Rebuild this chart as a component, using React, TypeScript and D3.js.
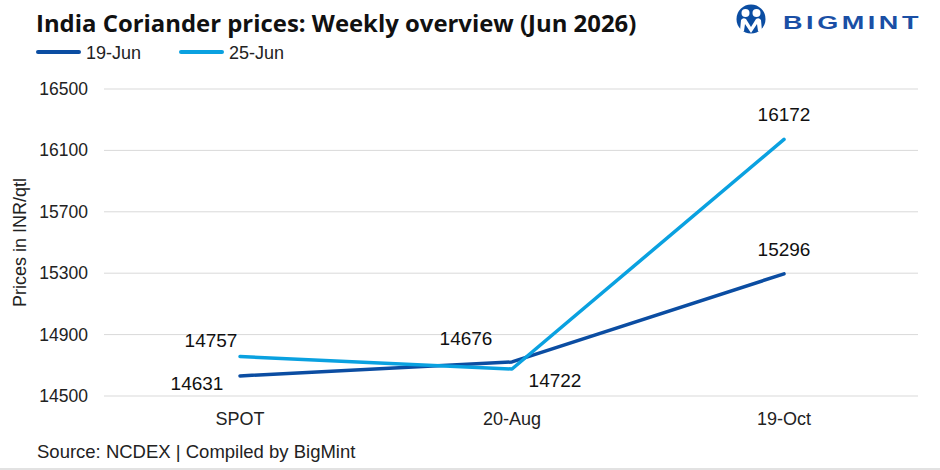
import React from "react";
import * as d3 from "d3";

const categories = ["SPOT", "20-Aug", "19-Oct"];
const seriesNames = ["19-Jun", "25-Jun"];
const jun19 = [14631, 14722, 15296];
const jun25 = [14757, 14676, 16172];
const yTicks = [14500, 14900, 15300, 15700, 16100, 16500];
// where each value label sits relative to its point
const jun19LabelPos = ["left-below", "right-below", "above"];
const jun25LabelPos = ["left-above", "far-left-above", "above"];

const W = 940;
const H = 470;
const M = { left: 104, right: 20, top: 89, bottom: 74 };
const COLORS = ["#0B4DA2", "#0AA1E0"];
const FONT = "Arial, 'Liberation Sans', Helvetica, sans-serif";

export default function App() {
  const x = d3
    .scaleBand<string>()
    .domain(categories)
    .range([M.left, W - M.right])
    .paddingInner(0)
    .paddingOuter(0);
  const y = d3
    .scaleLinear()
    .domain([14500, 16500])
    .range([H - M.bottom, M.top]);

  const cx = (c: string) => (x(c) as number) + x.bandwidth() / 2;

  const line = d3
    .line<number>()
    .x((_, i) => cx(categories[i]))
    .y((d) => y(d));

  const series = [
    { name: seriesNames[0], values: jun19, pos: jun19LabelPos, color: COLORS[0] },
    { name: seriesNames[1], values: jun25, pos: jun25LabelPos, color: COLORS[1] },
  ];

  const labelOffset = (p: string) => {
    switch (p) {
      case "left-below":
        return { dx: -43, dy: 14 };
      case "left-above":
        return { dx: -29, dy: -10 };
      case "far-left-above":
        return { dx: -46, dy: -24 };
      case "right-below":
        return { dx: 43, dy: 25 };
      default:
        return { dx: 0, dy: -18 };
    }
  };

  const [xl, xr] = x.range();

  return (
    <svg
      width={W}
      height={H}
      style={{ position: "absolute", left: 0, top: 0, background: "#fff" }}
      fontFamily={FONT}
    >
      <rect width={W} height={H} fill="#fff" />

      {/* title */}
      <text
        x={36}
        y={32}
        fontFamily="'Open Sans', sans-serif"
        fontWeight={700}
        fontSize={23.9}
        fill="#111"
      >
        India Coriander prices: Weekly overview (Jun 2026)
      </text>

      {/* logo */}
      <g>
        <circle cx={751} cy={19} r={14.5} fill="#0B4DA2" />
        <circle cx={745.5} cy={13} r={4} fill="#fff" />
        <circle cx={756.5} cy={13} r={4} fill="#fff" />
        <path
          d="M740,31 L741,20 Q743,17 746,19 L751,27 L756,19 Q759,17 761,20 L762,31 L758,31 L757,24 L751,33 L745,24 L744,31 Z"
          fill="#fff"
        />
        <text
          x={783}
          y={29}
          fontWeight={700}
          fontSize={19}
          fill="#1A4FA5"
          letterSpacing={2.5}
          textLength={139}
          lengthAdjust="spacingAndGlyphs"
        >
          BIGMINT
        </text>
      </g>

      {/* legend */}
      {series.map((s, i) => {
        const lx = 37 + i * 143;
        return (
          <g key={s.name}>
            <line
              x1={lx + 1}
              x2={lx + 42}
              y1={52}
              y2={52}
              stroke={s.color}
              strokeWidth={4}
              strokeLinecap="round"
            />
            <text x={lx + 49} y={59} fontSize={18} fill="#222">
              {s.name}
            </text>
          </g>
        );
      })}

      {/* grid and y ticks */}
      {yTicks.map((t) => (
        <g key={t}>
          <line x1={xl} x2={xr - 2} y1={y(t)} y2={y(t)} stroke="#d9d9d9" strokeWidth={1} />
          <text x={88} y={y(t) + 6} textAnchor="end" fontSize={17.5} fill="#222">
            {t}
          </text>
        </g>
      ))}

      {/* y axis title */}
      <text
        transform={`translate(26, ${(M.top + y(14500)) / 2}) rotate(-90)`}
        textAnchor="middle"
        fontSize={18}
        fill="#222"
      >
        Prices in INR/qtl
      </text>

      {/* x labels */}
      {categories.map((c) => (
        <text key={c} x={cx(c)} y={425} textAnchor="middle" fontSize={18} fill="#222">
          {c}
        </text>
      ))}

      {/* series lines */}
      {series.map((s) => (
        <path
          key={s.name}
          d={line(s.values) as string}
          fill="none"
          stroke={s.color}
          strokeWidth={3.5}
          strokeLinecap="round"
          strokeLinejoin="round"
        />
      ))}

      {/* value labels */}
      {series.map((s) =>
        s.values.map((v, i) => {
          const o = labelOffset(s.pos[i]);
          return (
            <text
              key={s.name + i}
              x={cx(categories[i]) + o.dx}
              y={y(v) + o.dy}
              textAnchor="middle"
              fontSize={19}
              fill="#111"
            >
              {v}
            </text>
          );
        })
      )}

      {/* source */}
      <text x={37} y={458} fontSize={18.5} fill="#222">
        Source: NCDEX | Compiled by BigMint
      </text>
      <line x1={0} x2={W} y1={469} y2={469} stroke="#d9d9d9" strokeWidth={1.5} />
    </svg>
  );
}
